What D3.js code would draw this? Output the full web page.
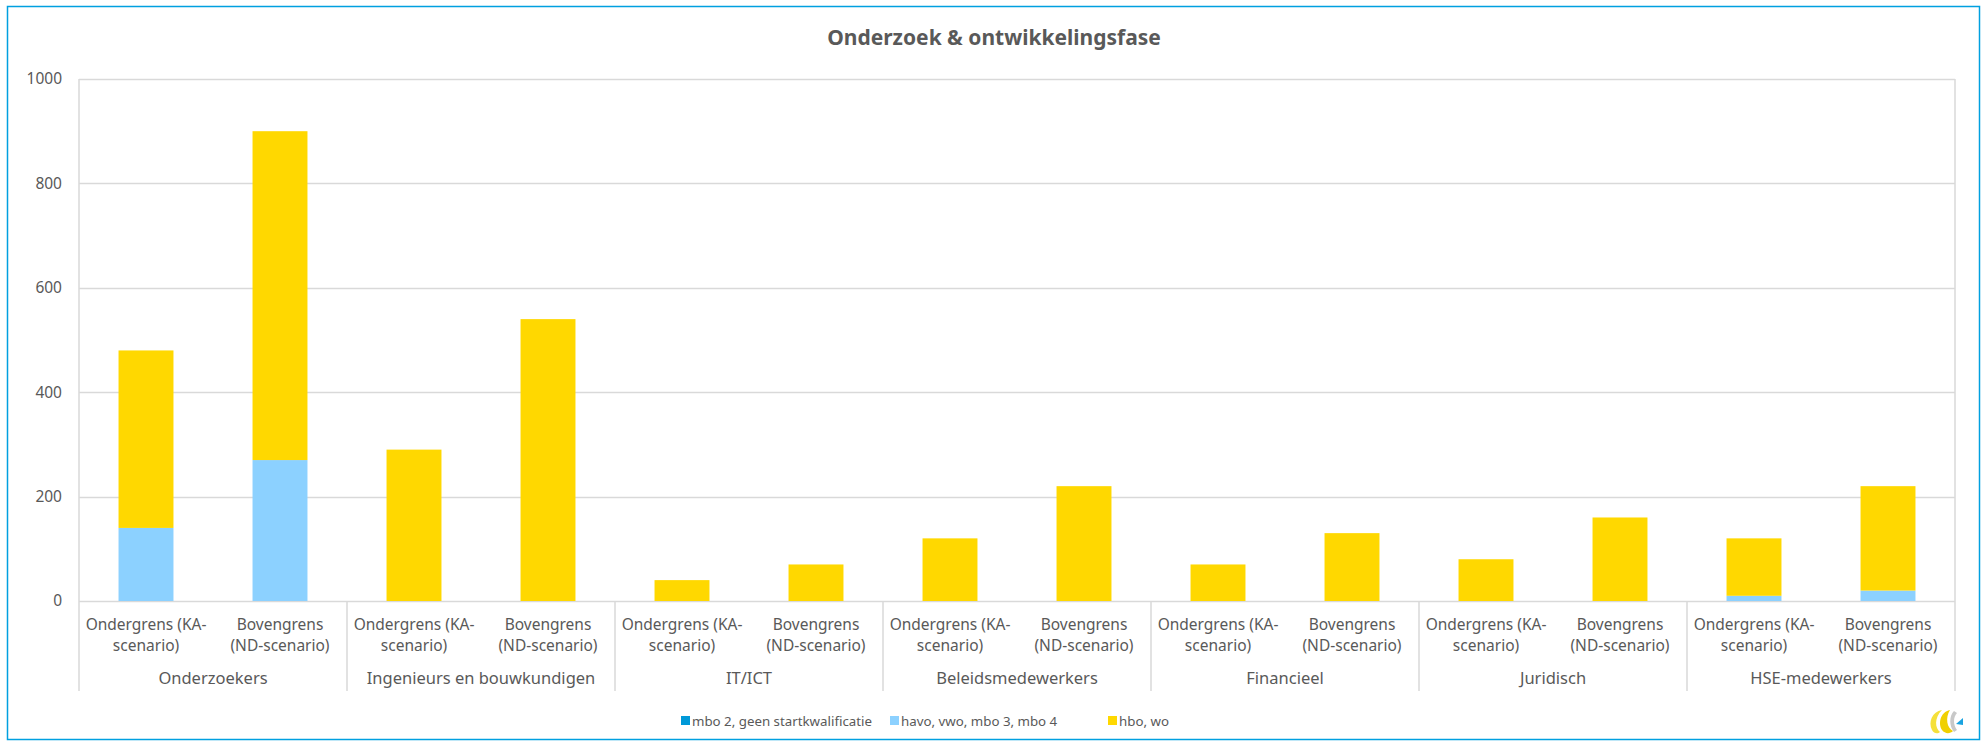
<!DOCTYPE html>
<html>
<head>
<meta charset="utf-8">
<script src="https://cdn.jsdelivr.net/npm/d3@7"></script>
<style>
  body { margin: 0; background: #fff; }
  text { font-family: "Noto Sans", sans-serif; fill: #595959; }
</style>
</head>
<body>
<div id="chart"></div>
<script>
// chart data
const groups = ['Onderzoekers', 'Ingenieurs en bouwkundigen', 'IT/ICT', 'Beleidsmedewerkers', 'Financieel', 'Juridisch', 'HSE-medewerkers'];
const scenarios = ['KA', 'ND'];
const scenarioLines = {
  KA: ['Ondergrens (KA-', 'scenario)'],
  ND: ['Bovengrens', '(ND-scenario)']
};
const seriesNames = ['mbo 2, geen startkwalificatie', 'havo, vwo, mbo 3, mbo 4', 'hbo, wo'];
const seriesColors = ['#0099d8', '#8cd1ff', '#ffd800'];
// values per group, KA then ND
const mbo2 = [0, 0, 0, 0, 0, 0, 0, 0, 0, 0, 0, 0, 0, 0];
const havoMbo = [140, 270, 0, 0, 0, 0, 0, 0, 0, 0, 0, 0, 10, 20];
const hboWo = [340, 630, 290, 540, 40, 70, 120, 220, 70, 130, 80, 160, 110, 200];
const yTicks = [0, 200, 400, 600, 800, 1000];

const W = 1988, H = 747;
const margin = { top: 79, right: 33, bottom: 146, left: 79 };
const width = W - margin.left - margin.right;
const height = H - margin.top - margin.bottom;

// build rows for d3.stack
const rows = [];
groups.forEach((g, gi) => {
  scenarios.forEach((s, si) => {
    const i = gi * 2 + si;
    rows.push({ group: g, scenario: s, mbo2: mbo2[i], havo: havoMbo[i], hbo: hboWo[i] });
  });
});
const keys = ['mbo2', 'havo', 'hbo'];
const stacked = d3.stack().keys(keys)(rows);

const svg = d3.select('#chart').append('svg')
  .attr('width', W)
  .attr('height', H);

// outer frame
svg.append('rect')
  .attr('x', 7.5).attr('y', 6.5)
  .attr('width', 1972).attr('height', 733)
  .attr('fill', 'none')
  .attr('stroke', '#00a0e0')
  .attr('stroke-width', 1.5);

svg.append('text')
  .attr('x', W / 2)
  .attr('y', 45)
  .attr('text-anchor', 'middle')
  .style('font-size', '21px')
  .style('font-weight', 'bold')
  .text('Onderzoek & ontwikkelingsfase');

const chart = svg.append('g')
  .attr('transform', `translate(${margin.left},${margin.top})`);

const x0 = d3.scaleBand().domain(groups).range([0, width]);
const x1 = d3.scaleBand().domain(scenarios).range([0, x0.bandwidth()]).paddingInner(0.59).paddingOuter(0.295);
const y = d3.scaleLinear().domain([0, 1000]).range([height, 0]);

// gridlines
chart.selectAll('.grid')
  .data(yTicks)
  .join('line')
  .attr('class', 'grid')
  .attr('x1', 0).attr('x2', width)
  .attr('y1', d => Math.round(y(d)) + 0.5)
  .attr('y2', d => Math.round(y(d)) + 0.5)
  .attr('stroke', '#d9d9d9')
  .attr('stroke-width', 1.5);

// y labels
chart.selectAll('.ylab')
  .data(yTicks)
  .join('text')
  .attr('class', 'ylab')
  .attr('x', -17)
  .attr('y', d => y(d))
  .attr('dy', '0.35em')
  .attr('text-anchor', 'end')
  .style('font-size', '15.5px')
  .text(d => d);

// bars
const layer = chart.selectAll('.layer')
  .data(stacked)
  .join('g')
  .attr('class', 'layer')
  .attr('fill', (d, i) => seriesColors[i]);

layer.selectAll('rect')
  .data(d => d)
  .join('rect')
  .attr('x', d => x0(d.data.group) + x1(d.data.scenario))
  .attr('width', x1.bandwidth())
  .attr('y', d => y(d[1]))
  .attr('height', d => y(d[0]) - y(d[1]));

// category separators
const sepBottom = 691 - margin.top;
chart.selectAll('.sep')
  .data(groups.concat(['end']))
  .join('line')
  .attr('class', 'sep')
  .attr('x1', (d, i) => i * x0.bandwidth())
  .attr('x2', (d, i) => i * x0.bandwidth())
  .attr('y1', (d, i) => (i === 0 || i === groups.length) ? 0 : height)
  .attr('y2', sepBottom)
  .attr('stroke', '#d9d9d9')
  .attr('stroke-width', 1.5);

// sub labels
rows.forEach(r => {
  const cx = x0(r.group) + x1(r.scenario) + x1.bandwidth() / 2;
  const t = chart.append('text')
    .attr('text-anchor', 'middle')
    .style('font-size', '15.5px');
  scenarioLines[r.scenario].forEach((line, li) => {
    t.append('tspan').attr('x', cx).attr('y', height + 29 + li * 21).text(line);
  });
});

// group labels
chart.selectAll('.glab')
  .data(groups)
  .join('text')
  .attr('class', 'glab')
  .attr('x', d => x0(d) + x0.bandwidth() / 2)
  .attr('y', 684 - margin.top)
  .attr('text-anchor', 'middle')
  .style('font-size', '16.5px')
  .text(d => d);

// legend
const legendX = [681, 890, 1108];
const legend = svg.selectAll('.leg')
  .data(seriesNames)
  .join('g')
  .attr('class', 'leg')
  .attr('transform', (d, i) => `translate(${legendX[i]},721)`);
legend.append('rect')
  .attr('x', 0).attr('y', -5)
  .attr('width', 9).attr('height', 9)
  .attr('fill', (d, i) => seriesColors[i]);
legend.append('text')
  .attr('x', 11)
  .attr('y', 0)
  .attr('dy', '0.35em')
  .style('font-size', '13.3px')
  .text(d => d);

// small logo, bottom right
const logo = svg.append('g').attr('transform', 'translate(1928,708)');
logo.append('path')
  .attr('d', 'M14,2 C4,4 0,14 4,22 C6,26 10,26 12,24 C7,20 6,10 14,2 Z')
  .attr('fill', '#f5e03a');
logo.append('path')
  .attr('d', 'M22,2 C12,4 10,16 14,22 C17,26 22,26 25,23 C19,20 17,10 22,2 Z')
  .attr('fill', '#f0d000');
logo.append('path')
  .attr('d', 'M26,3 C21,8 21,18 26,24 L29,22 C25,17 25,9 29,5 Z')
  .attr('fill', '#c8c8c8');
logo.append('path')
  .attr('d', 'M28,16 L35,10 L35,17 Z')
  .attr('fill', '#1aa3e0');
</script>
</body>
</html>
